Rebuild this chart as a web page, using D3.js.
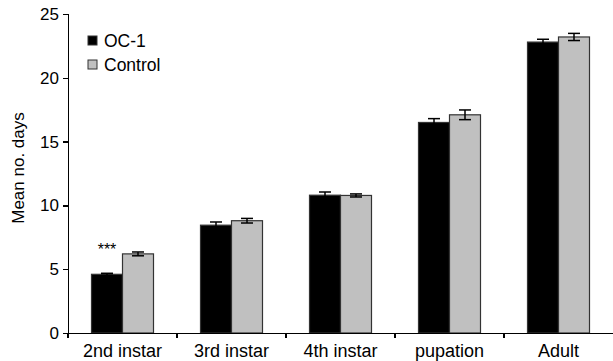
<!DOCTYPE html>
<html>
<head>
<meta charset="utf-8">
<script src="https://d3js.org/d3.v7.min.js"></script>
<style>
body { margin:0; background:#fff; }
text { font-family: Arial, "Liberation Sans", Helvetica, sans-serif; fill:#000; }
.axis path, .axis line { stroke:#000; stroke-width:1.3; shape-rendering:crispEdges; }
</style>
</head>
<body>
<div id="chart"></div>
<script>
// data
var stages = ["2nd instar", "3rd instar", "4th instar", "pupation", "Adult"];
var series = ["OC-1", "Control"];
var oc1 = [4.6, 8.45, 10.8, 16.5, 22.8];
var oc1Err = [0.08, 0.25, 0.25, 0.3, 0.22];
var control = [6.2, 8.8, 10.78, 17.1, 23.2];
var controlErr = [0.15, 0.18, 0.12, 0.38, 0.28];
var yTicks = [0, 5, 10, 15, 20, 25];

var W = 613, H = 361;
var margin = {top: 14, right: 0, bottom: 28, left: 68};
var width = W - margin.left - margin.right,
    height = H - margin.top - margin.bottom;

var svg = d3.select("#chart").append("svg")
    .attr("width", W).attr("height", H);
var g = svg.append("g").attr("transform", "translate(" + margin.left + "," + margin.top + ")");

var x = d3.scaleBand().domain(stages).range([0, width]);
var x1 = d3.scaleBand().domain(series).range([0, 62]);
var y = d3.scaleLinear().domain([0, 25]).range([height, 0]);
var fill = d3.scaleOrdinal().domain(series).range(["#000000", "#c0c0c0"]);

var rows = stages.map(function(s, i){
  return {stage: s, vals: [
    {key: "OC-1", v: oc1[i], e: oc1Err[i]},
    {key: "Control", v: control[i], e: controlErr[i]}
  ]};
});

var groups = g.selectAll(".grp").data(rows).enter().append("g")
    .attr("transform", function(d){ return "translate(" + (x(d.stage) + (x.bandwidth() - 62) / 2) + ",0)"; });

groups.selectAll("rect").data(function(d){ return d.vals; }).enter().append("rect")
    .attr("x", function(d){ return x1(d.key); })
    .attr("y", function(d){ return y(d.v); })
    .attr("width", x1.bandwidth())
    .attr("height", function(d){ return y(0) - y(d.v); })
    .attr("fill", function(d){ return fill(d.key); })
    .attr("stroke", "#333")
    .attr("stroke-width", 1.2);

// error bars
var eb = groups.selectAll(".err").data(function(d){ return d.vals; }).enter().append("g")
    .attr("stroke", "#000").attr("stroke-width", 1.5);
var cx = function(d){ return x1(d.key) + x1.bandwidth() / 2; };
eb.append("line")
    .attr("x1", cx).attr("x2", cx)
    .attr("y1", function(d){ return y(d.v - d.e); })
    .attr("y2", function(d){ return y(d.v + d.e); });
[1, -1].forEach(function(sg){
  eb.append("line")
    .attr("x1", function(d){ return cx(d) - 6; })
    .attr("x2", function(d){ return cx(d) + 6; })
    .attr("y1", function(d){ return y(d.v + sg * d.e); })
    .attr("y2", function(d){ return y(d.v + sg * d.e); });
});

// significance mark
g.append("text")
    .attr("x", x(stages[0]) + (x.bandwidth() - 62) / 2 + x1("OC-1") + x1.bandwidth() / 2)
    .attr("y", y(oc1[0]) - 19)
    .attr("text-anchor", "middle")
    .style("font-size", "16px")
    .text("***");

// axes
g.append("g").attr("class", "axis")
    .call(d3.axisLeft(y).tickValues(yTicks).tickSize(5).tickPadding(4))
    .call(function(a){ a.selectAll("text").style("font-size", "17px"); });

var xa = g.append("g").attr("class", "axis")
    .attr("transform", "translate(0," + height + ")")
    .call(d3.axisBottom(x).tickSize(0).tickPadding(11))
    .call(function(a){ a.selectAll("text").style("font-size", "18px"); });
xa.selectAll(".sep").data(stages).enter().append("line")
    .attr("x1", function(d){ return x(d); }).attr("x2", function(d){ return x(d); })
    .attr("y1", 0).attr("y2", 5);

svg.append("text")
    .attr("transform", "translate(24,168) rotate(-90)")
    .attr("text-anchor", "middle")
    .style("font-size", "17px")
    .text("Mean no. days");

// legend
var leg = svg.append("g").attr("transform", "translate(88,36)");
var li = leg.selectAll("g").data(series).enter().append("g")
    .attr("transform", function(d, i){ return "translate(0," + (i * 24) + ")"; });
li.append("rect").attr("width", 9).attr("height", 9)
    .attr("fill", function(d){ return fill(d); })
    .attr("stroke", "#333").attr("stroke-width", 1);
li.append("text").attr("x", 16).attr("y", 10.5)
    .style("font-size", "17.5px")
    .text(function(d){ return d; });
</script>
</body>
</html>
